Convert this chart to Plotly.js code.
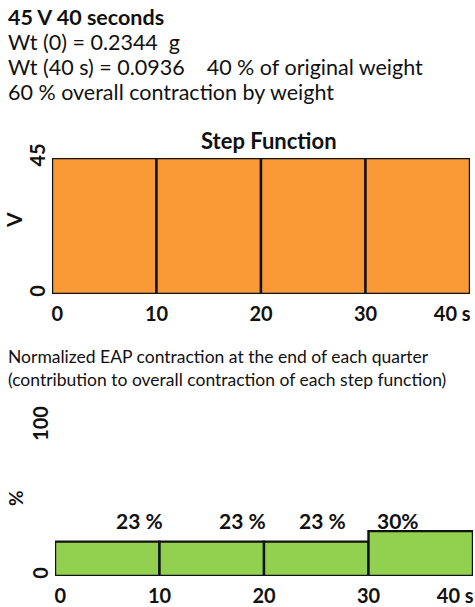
<!DOCTYPE html>
<html>
<head>
<meta charset="utf-8">
<script src="https://cdn.plot.ly/plotly-3.0.1.min.js"></script>
<style>html,body{margin:0;padding:0;background:#fff;}#chart{width:475px;height:607px;}</style>
</head>
<body>
<div id="chart"></div>
<script>
// ---- data ----
const stepStarts = [5, 15, 25, 35];          // centre of each 10 s quarter (s)
const stepVoltage = [45, 45, 45, 45];        // V applied in each quarter
const contribution = [23, 23, 23, 30];       // % contribution of each quarter
const contributionLabels = ['23 %', '23 %', '23 %', '30%'];
const xTickLabels = ['0', '10', '20', '30', '40 s'];
const headerLines = [
  '<b>45 V 40 seconds</b>',
  'Wt (0) = 0.2344  g',
  'Wt (40 s) = 0.0936    40 % of original weight',
  '60 % overall contraction by weight'
];

const FONT = 'Lato, "Open Sans", sans-serif';
const H = 607, W = 475;
const py = p => 1 - p / H;
const px = p => p / W;

const traces = [
  {
    type: 'bar', x: stepStarts, y: stepVoltage, width: 10,
    xaxis: 'x', yaxis: 'y',
    marker: {color: '#F99A36', line: {color: '#111', width: 2.4}},
    hoverinfo: 'skip'
  },
  {
    type: 'bar', x: stepStarts, y: contribution, width: 10,
    xaxis: 'x2', yaxis: 'y2',
    marker: {color: '#92D050', line: {color: '#111', width: 2.4}},
    hoverinfo: 'skip'
  }
];

const tickFont = {family: FONT, size: 20, color: '#111', weight: 'bold'};
const xTickVals = [0.5, 10, 20, 30, 38.3];

const annotations = [];
const headerY = [17, 42, 67, 92];
headerLines.forEach((t, i) => annotations.push({
  text: t, xref: 'paper', yref: 'paper', x: px(6), y: py(headerY[i]),
  xanchor: 'left', yanchor: 'middle', showarrow: false,
  font: {family: FONT, size: 21.5, color: '#111'}
}));
annotations.push({
  text: '<b>Step Function</b>', xref: 'paper', yref: 'paper', x: px(269), y: py(140),
  xanchor: 'center', yanchor: 'middle', showarrow: false,
  font: {family: FONT, size: 22, color: '#111'}
});
annotations.push({
  text: 'Normalized EAP contraction at the end of each quarter<br>(contribution to overall contraction of each step function)',
  xref: 'paper', yref: 'paper', x: px(6), y: py(368),
  xanchor: 'left', yanchor: 'middle', align: 'left', showarrow: false,
  font: {family: FONT, size: 17.5, color: '#111'}
});
annotations.push({
  text: '<b>V</b>', xref: 'paper', yref: 'paper', x: px(13), y: py(220),
  xanchor: 'center', yanchor: 'middle', textangle: -90, showarrow: false,
  font: {family: FONT, size: 21, color: '#111'}
});
annotations.push({
  text: '<b>%</b>', xref: 'paper', yref: 'paper', x: px(15), y: py(498),
  xanchor: 'center', yanchor: 'middle', textangle: -90, showarrow: false,
  font: {family: FONT, size: 19, color: '#111'}
});
const labelX = [8.1, 17.9, 25.6, 32.8];
contributionLabels.forEach((t, i) => annotations.push({
  text: '<b>' + t + '</b>', xref: 'x2', yref: 'paper', x: labelX[i], y: py(520),
  xanchor: 'center', yanchor: 'middle', showarrow: false,
  font: {family: FONT, size: 21, color: '#111'}
}));

const layout = {
  width: W, height: H,
  margin: {l: 0, r: 0, t: 0, b: 0},
  paper_bgcolor: '#fff', plot_bgcolor: 'rgba(0,0,0,0)',
  showlegend: false, bargap: 0,
  font: {family: FONT, color: '#111'},
  xaxis: {
    domain: [px(52), px(470)], range: [0, 40], anchor: 'y',
    showgrid: false, zeroline: false, showline: false, ticks: '',
    tickvals: xTickVals, ticktext: xTickLabels, tickangle: 0,
    tickfont: tickFont, ticklabelstandoff: 6
  },
  yaxis: {
    domain: [py(294), py(158)], range: [0, 45], anchor: 'x',
    showgrid: false, zeroline: false, showline: false, ticks: '',
    tickvals: [0, 45], ticktext: ['0', '45'], tickangle: -90,
    tickfont: tickFont, ticklabelstandoff: 2
  },
  xaxis2: {
    domain: [px(55), px(473)], range: [0, 40], anchor: 'y2',
    showgrid: false, zeroline: false, showline: false, ticks: '',
    tickvals: xTickVals, ticktext: xTickLabels, tickangle: 0,
    tickfont: tickFont, ticklabelstandoff: 6
  },
  yaxis2: {
    domain: [py(576), py(404)], range: [0, 115], anchor: 'x2',
    showgrid: false, zeroline: false, showline: false, ticks: '',
    tickvals: [0, 100], ticktext: ['0', '100'], tickangle: -90,
    tickfont: tickFont, ticklabelstandoff: 2
  },
  annotations: annotations
};

Plotly.newPlot('chart', traces, layout, {staticPlot: true, displayModeBar: false});
</script>
</body>
</html>
